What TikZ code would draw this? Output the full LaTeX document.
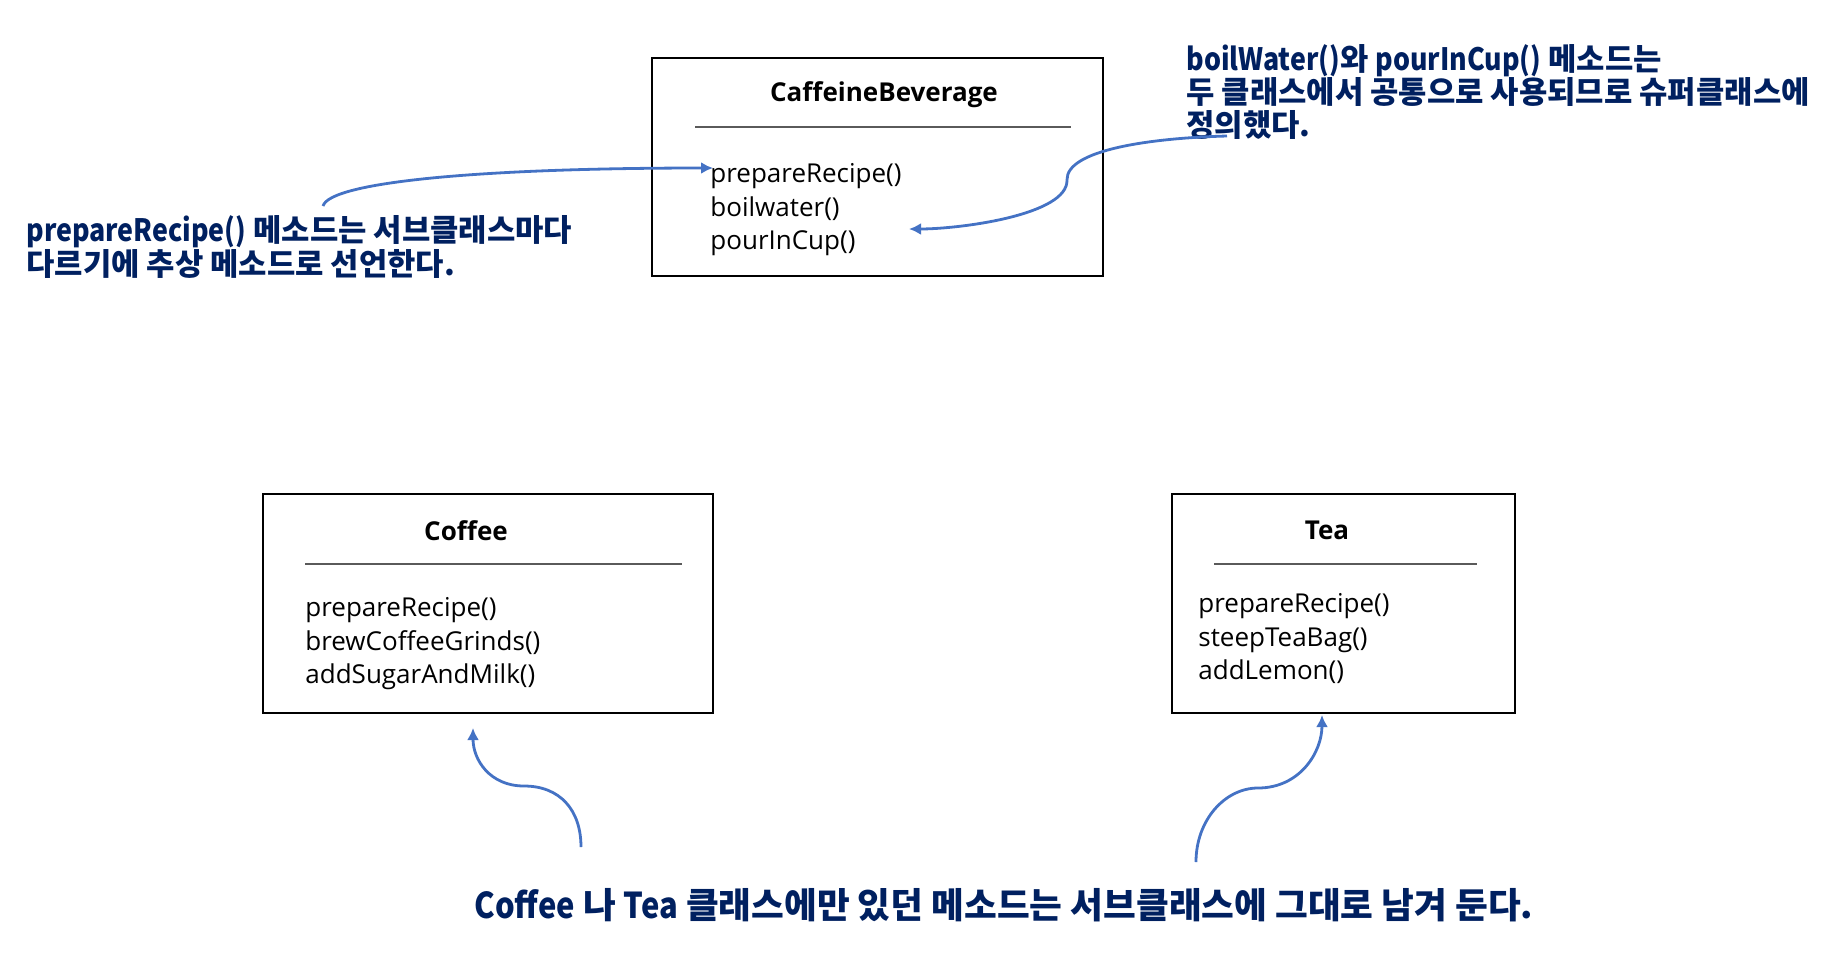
\documentclass[tikz,border=0pt]{standalone}
\usepackage{fontspec}
\setmainfont{Open Sans}
\newfontfamily\krfont{Noto Sans CJK KR}
\newfontfamily\latfont{Noto Sans CJK KR}[FakeStretch=0.87]
\newcommand{\lat}[1]{{\latfont #1}}
\usetikzlibrary{arrows.meta, positioning, calc}
\definecolor{colNote}{RGB}{0,32,96}
\definecolor{colArrow}{RGB}{68,114,196}
\definecolor{colSep}{RGB}{90,90,90}
\tikzset{
    classbox/.style={rectangle, draw=black, line width=1pt, inner sep=0pt},
    classname/.style={font=\fontsize{13}{16}\selectfont\bfseries, inner sep=0pt},
    methods/.style={font=\fontsize{13}{16.75}\selectfont, align=left, anchor=west, inner sep=0pt},
    sepline/.style={draw=colSep, line width=0.6pt},
    note/.style={font=\krfont\bfseries\fontsize{15.4}{16.6}\selectfont, text=colNote, align=left, inner sep=0pt, anchor=west},
    notearrow/.style={-{Latex[length=6pt,width=6pt]}, draw=colArrow, line width=1.4pt}
}
\begin{document}
\begin{tikzpicture}[x=0.5pt, y=-0.5pt]
    \useasboundingbox (0,0) rectangle (1827,955);

    % class boxes
    \node[classbox, minimum width=225.5pt, minimum height=109pt] (cb) at (877.5,167) {};
    \node[classbox, minimum width=225pt, minimum height=109.5pt] (coffee) at (488,603.5) {};
    \node[classbox, minimum width=171.5pt, minimum height=109.5pt] (tea) at (1343.5,603.5) {};

    \node[classname] (cbName) at (884,95) {CaffeineBeverage};
    \node[classname] (coffeeName) at (466,531) {Coffee};
    \node[classname] (teaName) at (1327,530) {Tea};

    \draw[sepline] (695,127) -- (1071,127);
    \draw[sepline] (305,564) -- (682,564);
    \draw[sepline] (1214,564) -- (1477,564);

    \node[methods] (cbMethods) at (710,210) {prepareRecipe()\\boilwater()\\pourInCup()};
    \node[methods] (coffeeMethods) at (305,644) {prepareRecipe()\\brewCoffeeGrinds()\\addSugarAndMilk()};
    \node[methods] (teaMethods) at (1198,639) {prepareRecipe()\\steepTeaBag()\\addLemon()};

    % notes
    \node[note] (leftNote) at (26,247) {\lat{prepareRecipe()} 메소드는 서브클래스마다\\다르기에 추상 메소드로 선언한다.};
    \node[note] (rightNote) at (1186,92) {\lat{boilWater()}와 \lat{pourInCup()} 메소드는\\두 클래스에서 공통으로 사용되므로 슈퍼클래스에\\정의했다.};
    \node[note, anchor=center, font=\krfont\bfseries\fontsize{17.8}{20}\selectfont] (bottomNote) at (1004,905) {\lat{Coffee} 나 \lat{Tea} 클래스에만 있던 메소드는 서브클래스에 그대로 남겨 둔다.};

    % arrow ends
    \coordinate (leftTail) at (323,206);
    \coordinate (leftHead) at (713,168);
    \coordinate (rightTail) at (1227,136);
    \coordinate (rightHead) at (909,229);
    \coordinate (coffeeTail) at (581,847);
    \coordinate (coffeeHead) at (473,728);
    \coordinate (teaTail) at (1196,862);
    \coordinate (teaHead) at (1322,715);

    \draw[notearrow] (leftTail) .. controls (330,182) and (480,168) .. (leftHead);
    \draw[notearrow] (rightTail) .. controls (1150,138) and (1066,150) .. (1067,180)
        .. controls (1068,215) and (960,229) .. (rightHead);
    \draw[notearrow] (coffeeTail) .. controls (581,810) and (560,786) .. (524,786)
        .. controls (490,786) and (473,760) .. (coffeeHead);
    \draw[notearrow] (teaTail) .. controls (1196,820) and (1225,788) .. (1258,788)
        .. controls (1300,788) and (1322,752) .. (teaHead);

\end{tikzpicture}
\end{document}
